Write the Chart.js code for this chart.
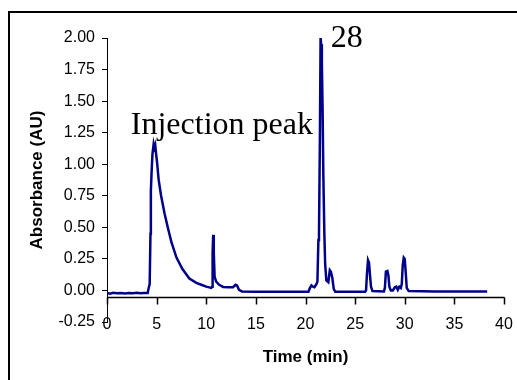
<!DOCTYPE html>
<html>
<head>
<meta charset="utf-8">
<script src="https://cdn.jsdelivr.net/npm/chart.js@4.4.1/dist/chart.umd.min.js"></script>
<style>
  html, body { margin: 0; padding: 0; background: #fff; }
  canvas { display: block; }
</style>
</head>
<body>
<canvas id="chromChart" width="517" height="380"></canvas>
<script>
// chromatogram trace
const timeMin = [
    0.0, 0.3, 0.6, 1.0, 1.4, 1.8, 2.2, 2.6, 3.0, 3.4, 3.7, 4.1,
    4.2, 4.3, 4.38, 4.42, 4.5, 4.58, 4.7, 4.78, 4.86, 4.95, 5.05, 5.2,
    5.45, 5.8, 6.15, 6.5, 7.0, 7.6, 8.3, 9.0, 9.5, 10.0, 10.5,
    10.6, 10.64, 10.7, 10.76, 10.84, 11.0, 11.3, 11.7, 12.2, 12.7,
    12.95, 13.1, 13.3, 13.6, 15.0, 17.0, 19.0, 20.3,
    20.45, 20.6, 20.75, 20.9, 21.1, 21.2, 21.3, 21.36, 21.45, 21.52, 21.58,
    21.65, 21.72, 21.8, 21.9, 21.98, 22.1, 22.3, 22.45, 22.55, 22.7, 22.85, 23.0,
    25.0, 26.0, 26.1, 26.2, 26.3, 26.4, 26.5, 26.6, 26.75,
    27.9, 28.0, 28.1, 28.25, 28.35, 28.45, 28.6, 28.8,
    29.0, 29.15, 29.3, 29.45, 29.6, 29.7, 29.8, 29.9, 30.0, 30.1, 30.2, 30.4,
    33.0, 36.0, 38.3
];
const absorbanceAU = [
    -0.02, -0.025, -0.018, -0.022, -0.02, -0.025, -0.02, -0.023, -0.018, -0.022, -0.02, -0.02,
    0.02, 0.05, 0.45, 0.79, 0.95, 1.08, 1.16, 1.13, 1.15, 1.08, 1.01, 0.88,
    0.75, 0.61, 0.49, 0.38, 0.26, 0.17, 0.095, 0.06, 0.045, 0.03, 0.02,
    0.03, 0.3, 0.44, 0.3, 0.11, 0.07, 0.045, 0.028, 0.025, 0.026,
    0.045, 0.04, 0.005, -0.008, -0.01, -0.01, -0.01, -0.01,
    0.02, 0.04, 0.03, 0.025, 0.05, 0.07, 0.4, 0.45, 1.2, 2.0, 1.95,
    1.8, 1.45, 0.9, 0.45, 0.21, 0.08, 0.066, 0.16, 0.15, 0.1, 0.01, -0.01,
    -0.01, -0.01, 0.0, 0.14, 0.24, 0.22, 0.12, 0.03, -0.005,
    -0.008, 0.02, 0.15, 0.155, 0.12, 0.03, 0.0, 0.0,
    0.025, 0.03, 0.005, 0.03, 0.02, 0.05, 0.2, 0.26, 0.25, 0.14, 0.02, -0.005,
    -0.008, -0.008, -0.008
];

// the time axis crosses the absorbance axis here
const xAxisCross = -0.05;

// text notes placed at [time, absorbance]
const noteTexts = ['Injection peak', '28'];
const noteTimes = [2.4, 22.55];
const noteValues = [1.24, 1.93];

const points = timeMin.map((t, i) => ({ x: t, y: absorbanceAU[i] }));

// outer frame around the plot
const framePlugin = {
    id: 'frame',
    beforeDraw(chart) {
        const ctx = chart.ctx;
        ctx.save();
        ctx.fillStyle = '#fff';
        ctx.fillRect(0, 0, chart.width, chart.height);
        ctx.strokeStyle = '#000';
        ctx.lineWidth = 2;
        ctx.strokeRect(9, 12, chart.width + 20, chart.height + 20);
        ctx.restore();
    }
};

// time axis line + tick marks at the crossing value, drawn last
const crossAxisPlugin = {
    id: 'crossAxis',
    afterDraw(chart) {
        const ctx = chart.ctx;
        const xs = chart.scales.x;
        const ys = chart.scales.y;
        const yPix = Math.round(ys.getPixelForValue(xAxisCross)) + 0.5;
        const x0 = Math.round(xs.getPixelForValue(xs.min)) + 0.5;
        const x1 = Math.round(xs.getPixelForValue(xs.max)) + 0.5;
        ctx.save();
        ctx.strokeStyle = '#000';
        ctx.lineWidth = 1.5;
        ctx.beginPath();
        ctx.moveTo(x0, yPix);
        ctx.lineTo(x1, yPix);
        xs.ticks.forEach(tick => {
            const px = Math.round(xs.getPixelForValue(tick.value)) + 0.5;
            ctx.moveTo(px, yPix);
            ctx.lineTo(px, yPix + 7);
        });
        ctx.stroke();
        ctx.restore();
    }
};

// serif labels on the peaks
const notesPlugin = {
    id: 'notes',
    afterDatasetsDraw(chart) {
        const ctx = chart.ctx;
        const xs = chart.scales.x;
        const ys = chart.scales.y;
        ctx.save();
        ctx.fillStyle = '#000';
        ctx.font = '32px "Liberation Serif", "Times New Roman", serif';
        ctx.textAlign = 'left';
        ctx.textBaseline = 'alphabetic';
        noteTexts.forEach((txt, i) => {
            ctx.fillText(txt, xs.getPixelForValue(noteTimes[i]), ys.getPixelForValue(noteValues[i]));
        });
        ctx.restore();
    }
};

Chart.defaults.font.family = '"Liberation Sans", Arial, sans-serif';
Chart.defaults.color = '#000';

const ctx = document.getElementById('chromChart').getContext('2d');
new Chart(ctx, {
    type: 'scatter',
    data: {
        datasets: [{
            data: points,
            showLine: true,
            borderColor: '#00008b',
            borderWidth: 2.5,
            pointRadius: 0,
            tension: 0
        }]
    },
    options: {
        responsive: false,
        animation: false,
        layout: {
            padding: { left: 0, right: 13, top: 38, bottom: 58 }
        },
        plugins: {
            legend: { display: false },
            tooltip: { enabled: false }
        },
        scales: {
            x: {
                type: 'linear',
                min: 0,
                max: 40,
                position: { y: xAxisCross },
                ticks: { stepSize: 5, padding: 12, font: { size: 16 }, color: '#000' },
                grid: { display: false, drawOnChartArea: false, tickLength: 6 },
                border: { display: false },
                title: {
                    display: true,
                    text: 'Time (min)',
                    font: { size: 17, weight: 'bold' },
                    color: '#000',
                    padding: { top: 1, bottom: 0 }
                },
                afterFit: scale => { scale.paddingLeft = 0; scale.paddingRight = 0; }
            },
            y: {
                type: 'linear',
                position: 'left',
                min: -0.25,
                max: 2,
                ticks: {
                    stepSize: 0.25,
                    padding: 7,
                    font: { size: 16 },
                    color: '#000',
                    callback: value => value.toFixed(2)
                },
                grid: { drawOnChartArea: false, drawTicks: true, tickLength: 5, color: '#000' },
                border: { color: '#000', width: 1 },
                title: {
                    display: true,
                    text: 'Absorbance (AU)',
                    font: { size: 17, weight: 'bold' },
                    color: '#000',
                    padding: { top: 27, bottom: 0 }
                },
                afterFit: scale => { scale.width = 107; }
            }
        }
    },
    plugins: [framePlugin, crossAxisPlugin, notesPlugin]
});
</script>
</body>
</html>
